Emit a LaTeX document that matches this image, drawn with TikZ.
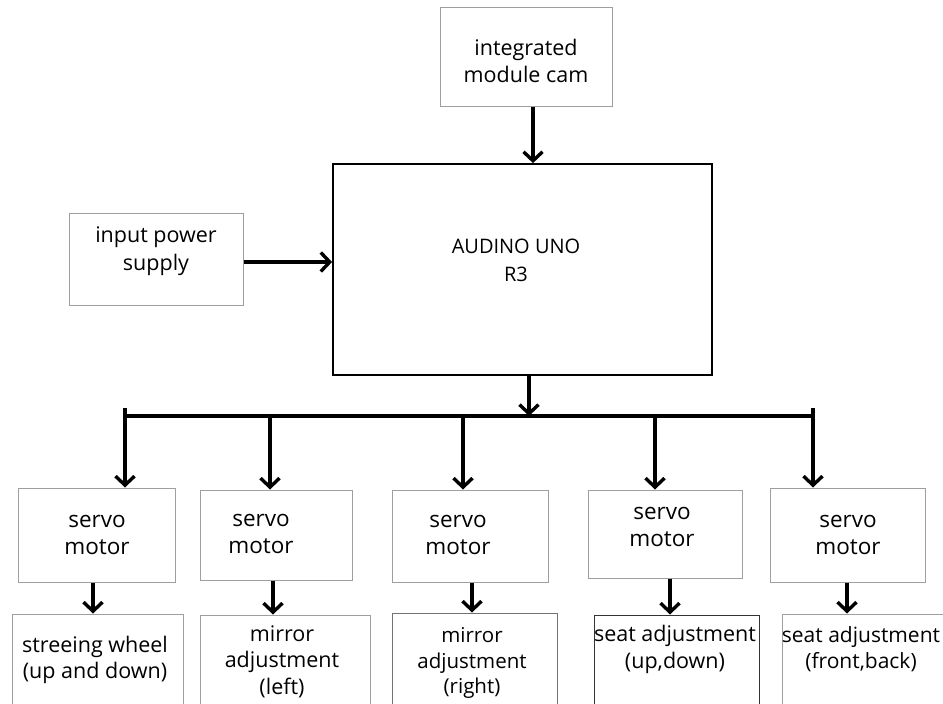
\documentclass[tikz,border=0pt]{standalone}
\usepackage{fontspec}
\setmainfont{Open Sans}
\usetikzlibrary{arrows.meta}
\begin{document}
\begin{tikzpicture}[x=1pt,y=-1pt,
  box/.style={draw=gray!75,line width=1pt,inner sep=0pt},
  mainbox/.style={draw=black,line width=1.8pt,inner sep=0pt},
  txt/.style={align=center,inner sep=0pt,font=\fontsize{22.5}{27.5}\selectfont},
  bottxt/.style={align=center,inner sep=0pt,font=\fontsize{21.5}{26.5}\selectfont},
  toptxt/.style={align=center,inner sep=0pt,font=\fontsize{21.5}{27.5}\selectfont},
  ardtxt/.style={align=center,inner sep=0pt,font=\fontsize{20}{28}\selectfont},
  mirtxt/.style={align=center,inner sep=0pt,font=\fontsize{20.5}{25.5}\selectfont},
  arr/.style={line width=3.4pt,-{Straight Barb[length=9pt,width=19pt,line width=3.4pt]}},
  bus/.style={line width=4.2pt}]
\clip (0,0) rectangle (943,704);
\fill[white] (0,0) rectangle (943,704);
% top boxes
\node[box,minimum width=172pt,minimum height=99pt] (cam) at (526,56.5) {};
\node[toptxt] (camt) at (526,61) {integrated\\module cam};
\node[box,minimum width=174pt,minimum height=92pt] (pow) at (156,259) {};
\node[toptxt] (powt) at (156,251) {input power\\supply};
\node[mainbox,minimum width=379pt,minimum height=211pt] (ard) at (522.5,269.5) {};
\node[ardtxt] (ardt) at (516,260.5) {AUDINO UNO\\R3};
% connectors to main
\coordinate (camx) at (533,0);
\coordinate (powy) at (0,262);
\draw[arr] (cam.south -| camx) -- (ard.north -| camx);
\draw[arr] (pow.east |- powy) -- (ard.west |- powy);
% bus
\coordinate (busL) at (125,416);
\coordinate (busR) at (813,416);
\coordinate (tap) at (529,416);
\draw[arr] (ard.south -| tap) -- (tap);
\draw[bus] (busL) -- (busR);
% servo boxes
\node[box,minimum width=157pt,minimum height=94pt] (s1) at (96.5,535) {};
\node[box,minimum width=152pt,minimum height=90pt] (s2) at (276,535) {};
\node[box,minimum width=156pt,minimum height=92pt] (s3) at (470,536) {};
\node[box,minimum width=154pt,minimum height=88pt] (s4) at (665,534) {};
\node[box,minimum width=155pt,minimum height=94pt] (s5) at (847.5,535) {};
\node[txt] (s1t) at (97,535) {servo\\motor};
\node[txt] (s2t) at (261,534) {servo\\motor};
\node[txt] (s3t) at (458,535) {servo\\motor};
\node[txt] (s4t) at (662,527) {servo\\motor};
\node[txt] (s5t) at (848,535) {servo\\motor};
% bus taps
\coordinate (t1) at (125,408);
\coordinate (t2) at (270,416);
\coordinate (t3) at (463,416);
\coordinate (t4) at (655,416);
\coordinate (t5) at (813,408);
\draw[arr] (t1) -- (t1 |- s1.north);
\draw[arr] (t2) -- (t2 |- s2.north);
\draw[arr] (t3) -- (t3 |- s3.north);
\draw[arr] (t4) -- (t4 |- s4.north);
\draw[arr] (t5) -- (t5 |- s5.north);
% bottom boxes
\node[box,minimum width=171pt,minimum height=100pt] (b1) at (97.5,664) {};
\node[box,minimum width=170pt,minimum height=100pt] (b2) at (285,665) {};
\node[box,draw=gray!90!black,minimum width=165pt,minimum height=100pt] (b3) at (474.5,663) {};
\node[box,draw=black!80,minimum width=165pt,minimum height=100pt] (b4) at (676.5,665) {};
\node[box,minimum width=163pt,minimum height=100pt] (b5) at (863.5,664) {};
\node[bottxt] (b1t) at (95,660) {streeing wheel\\(up and down)};
\node[bottxt] (b2t) at (282,661.5) {mirror\\adjustment\\(left)};
\node[mirtxt] (b3t) at (472,663) {mirror\\adjustment\\(right)};
\node[bottxt] (b4t) at (675,649.5) {seat adjustment\\(up,down)};
\node[bottxt,font=\fontsize{21}{26.5}\selectfont] (b5t) at (861,649) {seat adjustment\\(front,back)};
% servo to function arrows
\coordinate (d1) at (93,0);
\coordinate (d2) at (273,0);
\coordinate (d3) at (472,0);
\coordinate (d4) at (670,0);
\coordinate (d5) at (847,0);
\draw[arr] (s1.south -| d1) -- (b1.north -| d1);
\draw[arr] (s2.south -| d2) -- (b2.north -| d2);
\draw[arr] (s3.south -| d3) -- (b3.north -| d3);
\draw[arr] (s4.south -| d4) -- (b4.north -| d4);
\draw[arr] (s5.south -| d5) -- (b5.north -| d5);
\end{tikzpicture}
\end{document}
